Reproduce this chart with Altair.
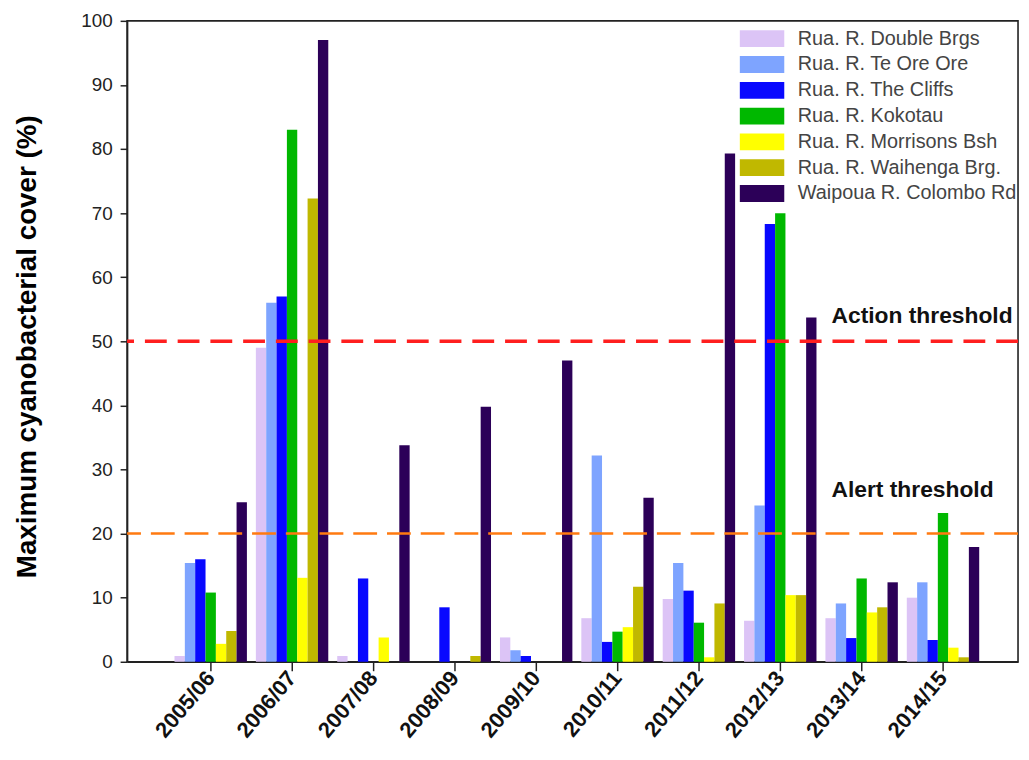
import altair as alt
import pandas as pd

years = ["2005/06", "2006/07", "2007/08", "2008/09", "2009/10",
         "2010/11", "2011/12", "2012/13", "2013/14", "2014/15"]
sites = ["Rua. R. Double Brgs", "Rua. R. Te Ore Ore", "Rua. R. The Cliffs",
         "Rua. R. Kokotau", "Rua. R. Morrisons Bsh", "Rua. R. Waihenga Brg.",
         "Waipoua R. Colombo Rd"]
colors = ["#dcc4f6", "#7ea4ff", "#0808ff", "#00b800", "#ffff00", "#c0b800", "#2c0058"]

double_brgs = [0.9, 49.0, 0.9, 0.0, 3.8, 6.8, 9.8, 6.4, 6.8, 10.0]
te_ore_ore = [15.4, 56.0, 0.0, 0.0, 1.8, 32.2, 15.4, 24.4, 9.1, 12.4]
the_cliffs = [16.0, 57.0, 13.0, 8.5, 0.9, 3.1, 11.1, 68.3, 3.7, 3.4]
kokotau = [10.8, 83.0, 0.0, 0.0, 0.0, 4.7, 6.1, 70.0, 13.0, 23.2]
morrisons_bsh = [2.8, 13.1, 3.8, 0.0, 0.0, 5.4, 0.7, 10.4, 7.7, 2.2]
waihenga_brg = [4.8, 72.3, 0.0, 0.9, 0.0, 11.7, 9.1, 10.4, 8.5, 0.7]
colombo_rd = [24.9, 97.0, 33.8, 39.8, 47.0, 25.6, 79.3, 53.7, 12.4, 17.9]

threshold_values = [50, 20]
threshold_labels = ["Action threshold", "Alert threshold"]

series = [double_brgs, te_ore_ore, the_cliffs, kokotau, morrisons_bsh, waihenga_brg, colombo_rd]
rows = []
for s, vals in zip(sites, series):
    for yr, v in zip(years, vals):
        rows.append({"year": yr, "site": s, "cover": v})
df = pd.DataFrame(rows)

W, H = 898, 646
FONT = "Liberation Sans"

bars = alt.Chart(df).mark_bar().encode(
    x=alt.X("year:N", sort=years,
            scale=alt.Scale(paddingInner=0.11, paddingOuter=0.53, align=0.55),
            axis=alt.Axis(title=None, labelAngle=-50, labelFontSize=22, labelFontWeight="bold",
                          labelColor="#111", labelFont=FONT, tickSize=9, labelPadding=3)),
    xOffset=alt.XOffset("site:N", sort=sites, scale=alt.Scale(paddingInner=0, paddingOuter=0)),
    y=alt.Y("cover:Q", scale=alt.Scale(domain=[0, 100], nice=False),
            axis=alt.Axis(title="Maximum cyanobacterial cover (%)", values=list(range(0, 101, 10)),
                          labelFontSize=19, labelColor="#222", labelFont=FONT, tickSize=7,
                          labelPadding=8, titleFontSize=28, titleFontWeight="bold",
                          titleFont=FONT, titleColor="#000", titleX=-100, titleY=328,
                          titleAlign="center", titleBaseline="middle", titleAngle=-90)),
    color=alt.Color("site:N", sort=sites, scale=alt.Scale(domain=sites, range=colors),
                    legend=alt.Legend(title=None, orient="none", legendX=630, legendY=8,
                                      symbolType="M-2.8,-1.06L2.8,-1.06L2.8,1.06L-2.8,1.06Z",
                                      symbolSize=256, symbolStrokeWidth=0, labelOffset=26,
                                      labelFontSize=20, labelColor="#444", labelFont=FONT,
                                      labelLimit=0, rowPadding=6, padding=0, symbolOpacity=1)),
)

thr1 = pd.DataFrame({"cover": [threshold_values[0]], "label": [threshold_labels[0]]})
thr2 = pd.DataFrame({"cover": [threshold_values[1]], "label": [threshold_labels[1]]})

rule1 = alt.Chart(thr1).mark_rule(color="#ff1f1f", strokeWidth=3.5, strokeDash=[22, 11]).encode(y="cover:Q")
rule2 = alt.Chart(thr2).mark_rule(color="#ff7a10", strokeWidth=2.5, strokeDash=[24, 10]).encode(y="cover:Q")
text1 = alt.Chart(thr1).mark_text(align="left", baseline="middle", fontSize=23, fontWeight="bold",
                                  font=FONT, color="#111", dy=-25).encode(
    y="cover:Q", x=alt.value(710), text="label:N")
text2 = alt.Chart(thr2).mark_text(align="left", baseline="middle", fontSize=23, fontWeight="bold",
                                  font=FONT, color="#111", dy=-44).encode(
    y="cover:Q", x=alt.value(710), text="label:N")

chart = alt.layer(bars, rule1, rule2, text1, text2).properties(
    width=W, height=H,
    autosize=alt.AutoSizeParams(type="none"),
    padding={"left": 120, "top": 10, "right": 3, "bottom": 90},
).configure_view(stroke="#222", strokeWidth=1.6).configure_axis(
    grid=False, domainColor="#222", domainWidth=1.6, tickColor="#222", tickWidth=1.5
)

chart.save("out.html", embed_options={"renderer": "svg", "actions": False})
